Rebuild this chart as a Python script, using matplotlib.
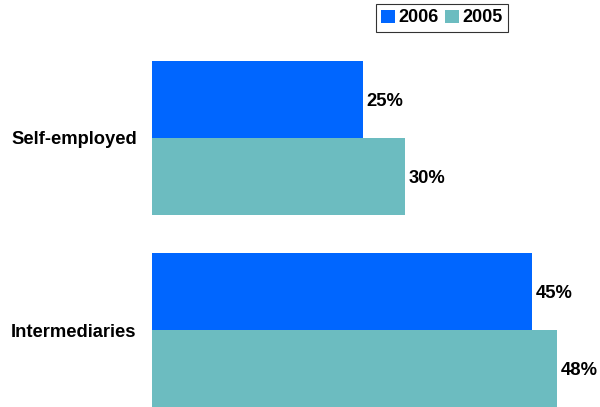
import matplotlib
matplotlib.use("Agg")
import matplotlib.pyplot as plt

categories = ["Intermediaries", "Self-employed"]
values_2006 = [45, 25]
values_2005 = [48, 30]
series_names = ["2006", "2005"]
colors = ["#0066FF", "#6CBCC0"]

plt.rcParams["font.family"] = ["Liberation Sans", "DejaVu Sans"]
plt.rcParams["font.weight"] = "bold"

fig = plt.figure(figsize=(6.0, 4.07), dpi=100)
ax = fig.add_axes([152 / 600, 0.0, 1 - 152 / 600, 367 / 407])

h = 0.4
ys = list(range(len(categories)))
b1 = ax.barh([y + h / 2 for y in ys], values_2006, height=h, color=colors[0], label=series_names[0])
b2 = ax.barh([y - h / 2 for y in ys], values_2005, height=h, color=colors[1], label=series_names[1])

for bars, vals in ((b1, values_2006), (b2, values_2005)):
    for bar, v in zip(bars, vals):
        ax.text(v + 0.45, bar.get_y() + bar.get_height() / 2 - 0.01, f"{v}%",
                va="center", ha="left", fontsize=13.2, fontweight="bold")

ax.set_xlim(0, 53.1)
ax.set_ylim(-0.4, 1.51)
ax.set_yticks(ys)
ax.set_yticklabels(categories, fontsize=13.2, fontweight="bold")
ax.tick_params(axis="y", length=0, pad=11)
ax.set_xticks([])
for s in ax.spines.values():
    s.set_visible(False)

leg = fig.legend(handles=[b1, b2], labels=series_names, loc="upper left",
                 bbox_to_anchor=(376 / 600, 1 - 4 / 407), ncol=2, frameon=True,
                 fancybox=False, edgecolor="black", fontsize=13,
                 handlelength=0.75, handleheight=0.75, handletextpad=0.2,
                 columnspacing=0.35, borderpad=0.3, borderaxespad=0)
leg.get_frame().set_linewidth(0.8)

fig.savefig("out.png", dpi=100)
